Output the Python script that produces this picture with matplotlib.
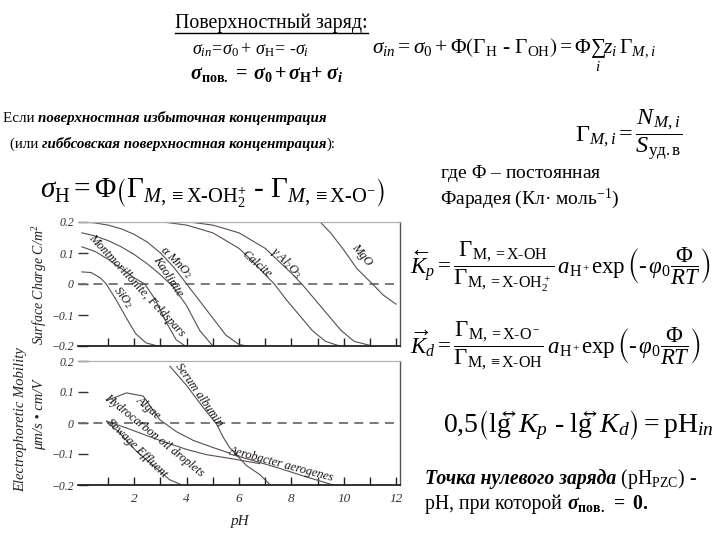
import matplotlib
matplotlib.use("Agg")
import matplotlib.pyplot as plt
from matplotlib.lines import Line2D

plt.rcParams['mathtext.fontset'] = 'custom'
plt.rcParams['mathtext.rm'] = 'Liberation Serif'
plt.rcParams['mathtext.it'] = 'Liberation Serif:italic'
plt.rcParams['mathtext.bf'] = 'Liberation Serif:bold'
plt.rcParams['mathtext.bfit'] = 'Liberation Serif:bold:italic'
plt.rcParams['mathtext.fallback'] = 'stix'
plt.rcParams['font.family'] = ['Liberation Serif', 'DejaVu Serif']

# ---------------- data ----------------
# upper panel: surface charge (C/m^2) vs pH
sio2_ph = [0.0, 0.35, 0.7, 0.93, 1.3, 1.7, 2.05, 2.45, 2.9]
sio2_q = [0.039, 0.037, 0.02, 0.0, -0.05, -0.11, -0.16, -0.19, -0.2]
mont_ph = [0.0, 0.5, 1.0, 1.5, 2.0, 2.4, 2.8, 3.2, 3.6, 3.95]
mont_q = [0.12, 0.105, 0.08, 0.05, 0.02, 0.0, -0.05, -0.12, -0.18, -0.2]
kaol_ph = [0.0, 0.5, 1.0, 1.5, 2.0, 2.5, 3.0, 3.5, 4.0, 4.5, 5.0]
kaol_q = [0.165, 0.155, 0.14, 0.12, 0.095, 0.065, 0.03, -0.01, -0.07, -0.15, -0.2]
mno2_ph = [0.0, 0.5, 1.0, 1.5, 2.0, 2.5, 3.0, 3.5, 4.0, 4.5, 5.0, 5.5, 6.0, 6.3]
mno2_q = [0.2, 0.197, 0.19, 0.178, 0.16, 0.135, 0.1, 0.055, 0.0, -0.055, -0.11, -0.165, -0.195, -0.2]
calc_ph = [3.1, 4.0, 5.0, 6.0, 6.5, 7.0, 7.35, 7.8, 8.3, 8.8, 9.3, 9.85]
calc_q = [0.2, 0.19, 0.165, 0.115, 0.075, 0.03, 0.0, -0.05, -0.1, -0.15, -0.185, -0.2]
al2o3_ph = [4.1, 5.0, 6.0, 7.0, 7.5, 8.0, 8.4, 8.9, 9.4, 9.9, 10.4, 11.1]
al2o3_q = [0.2, 0.19, 0.165, 0.115, 0.075, 0.035, 0.0, -0.05, -0.1, -0.15, -0.185, -0.2]
mgo_ph = [9.1, 9.5, 10.0, 10.5, 11.1, 11.5, 12.0]
mgo_q = [0.2, 0.165, 0.11, 0.05, 0.0, -0.035, -0.065]

# lower panel: electrophoretic mobility vs pH
serum_ph = [3.36, 3.99, 4.63, 5.14, 5.39, 5.64, 6.28, 6.79, 7.2]
serum_m = [0.183, 0.122, 0.05, -0.003, -0.045, -0.079, -0.137, -0.166, -0.2]
algae_ph = [0.94, 1.7, 2.34, 2.97, 3.61, 4.25, 5.0, 5.64]
algae_m = [0.072, 0.097, 0.087, 0.011, -0.028, -0.056, -0.079, -0.097]
hydro_ph = [0.94, 1.7, 2.97, 3.99, 4.75, 5.64, 6.79]
hydro_m = [0.006, -0.016, -0.056, -0.085, -0.102, -0.114, -0.131]
sewage_ph = [0.94, 1.45, 2.08, 2.72, 3.35, 3.74]
sewage_m = [0.006, -0.033, -0.091, -0.137, -0.183, -0.197]
aero_ph = [5.64, 6.5, 7.5, 8.5, 9.6]
aero_m = [-0.1, -0.12, -0.145, -0.172, -0.2]

upper_ticks = [-0.2, -0.1, 0.0, 0.1, 0.2]
upper_ticklabels = ['\u22120.2', '\u22120.1', '0', '0.1', '0.2']
x_ticks = list(range(1, 13))
x_ticklabels = ['', '2', '', '4', '', '6', '', '8', '', '10', '', '12']

# ---------------- figure ----------------
W, H = 720, 540
fig = plt.figure(figsize=(W / 100, H / 100), dpi=100)
fig.patch.set_facecolor('white')
R = fig.canvas.get_renderer()


def fx(x):
    return x / W


def fy(y):
    return 1 - y / H


def seq(x, y, pieces):
    """Place pieces of text one after another on a common baseline (pixels)."""
    out = []
    for s, kw in pieces:
        t = fig.text(fx(x), fy(y), s, ha='left', va='baseline', **kw)
        bb = t.get_window_extent(renderer=R)
        x += bb.width
        out.append(t)
    return out, x


def underline(t, dy=3):
    bb = t.get_window_extent(renderer=R)
    y = bb.y0 + 1
    fig.add_artist(Line2D([bb.x0 / W, bb.x1 / W], [(y - dy + 2) / H, (y - dy + 2) / H],
                          transform=fig.transFigure, color='black', lw=1.0))


# ---- header text ----
t = fig.text(fx(175), fy(28), 'Поверхностный заряд:', fontsize=14.3, ha='left', va='baseline')
underline(t)
fig.text(fx(192), fy(54), r'$\sigma_{in}\!=\!\sigma_0+\,\sigma_\mathrm{H}\!=\,\text{-}\sigma_i$',
         fontsize=13, ha='left', va='baseline')
fig.text(fx(190), fy(79), r'$\mathbfit{\sigma}_\mathbf{пов.}\,\mathbf{=}\;\mathbfit{\sigma}_\mathbf{0}\,\mathbf{+}\,\mathbfit{\sigma}_\mathbf{H}\mathbf{+}\;\mathbfit{\sigma}_\mathbfit{i}$',
         fontsize=14.5, ha='left', va='baseline')
fig.text(fx(372), fy(53), r'$\sigma_{in}=\sigma_0+\Phi\left(\Gamma_\mathrm{H}\ \text{-}\ \Gamma_\mathrm{OH}\right)=\Phi\sum_i z_i\,\Gamma_{M,i}$',
         fontsize=15.5, ha='left', va='baseline')

bi = dict(fontsize=10.8, style='italic', weight='bold')
rg = dict(fontsize=10.8)
seq(3, 122, [('Если ', rg), ('поверхностная избыточная концентрация', bi)])
seq(10, 148, [('(или ', rg), ('гиббсовская поверхностная концентрация', bi), ('):', rg)])

fig.text(fx(575), fy(135), r'$\Gamma_{M,i}=\dfrac{N_{M,i}}{S_{\mathrm{уд.в}}}$', fontsize=17.5,
         ha='left', va='center')

fig.text(fx(40), fy(192), r'$\sigma_\mathrm{H}=\Phi\left(\Gamma_{M,\equiv\mathrm{X\text{-}OH}_2^{+}}\ \text{-}\ \Gamma_{M,\equiv\mathrm{X\text{-}O}^{-}}\right)$',
         fontsize=21, ha='left', va='center')

fig.text(fx(440), fy(178), 'где $\\mathit{Φ}$ – постоянная', fontsize=14, ha='left', va='baseline')
fig.text(fx(440), fy(204), 'Фарадея (Кл· моль$^{-1}$)', fontsize=14, ha='left', va='baseline')

fig.text(fx(410), fy(267), r'$\overleftarrow{K}_p=\dfrac{\Gamma_{\mathrm{M,=X\text{-}OH}}}{\Gamma_{\mathrm{M,=X\text{-}OH}_2^+}}\,a_{\mathrm{H}^+}\exp\left(\text{-}\,\varphi_0\dfrac{\Phi}{RT}\right)$',
         fontsize=16.5, ha='left', va='center')
fig.text(fx(410), fy(346), r'$\overrightarrow{K}_d=\dfrac{\Gamma_{\mathrm{M,=X\text{-}O}^-}}{\Gamma_{\mathrm{M,\equiv X\text{-}OH}}}\,a_{\mathrm{H}^+}\exp\left(\text{-}\,\varphi_0\dfrac{\Phi}{RT}\right)$',
         fontsize=16.5, ha='left', va='center')

fig.text(fx(443), fy(425), r'$\mathrm{0{,}5}\left(\mathrm{lg}\overleftrightarrow{K}_p\ \text{-}\ \mathrm{lg}\overleftrightarrow{K}_d\right)=\mathrm{pH}_{in}$',
         fontsize=20, ha='left', va='center')

seq(425, 484, [('Точка нулевого заряда', dict(fontsize=14.2, style='italic', weight='bold')),
               (' (pH$_{\\mathrm{PZC}}$) -', dict(fontsize=14.2))])
seq(425, 509, [('pH, при которой ', dict(fontsize=14.2)),
               (r'$\mathbfit{\sigma}_\mathbf{пов.}\ \mathbf{=\ 0.}$', dict(fontsize=14.2))])

# ---------------- charts ----------------
curve_c = '#5e4c4c'
lab_kw = dict(fontsize=8.8, style='italic', ha='center', va='center', rotation_mode='anchor',
              color='#111111')


def style_axes(ax, show_xlabels):
    ax.set_xlim(-0.15, 12.15)
    ax.set_ylim(-0.2, 0.2)
    ax.set_facecolor('white')
    ax.spines['left'].set_visible(False)
    ax.spines['top'].set_color('#b0b0b0')
    ax.spines['top'].set_linewidth(0.9)
    ax.spines['right'].set_color('#555555')
    ax.spines['right'].set_linewidth(1.0)
    ax.spines['bottom'].set_color('#222222')
    ax.spines['bottom'].set_linewidth(1.3)
    ax.set_xticks(x_ticks)
    ax.set_yticks(upper_ticks)
    ax.set_yticklabels(upper_ticklabels, fontsize=8.5, style='italic', color='#333333')
    if show_xlabels:
        ax.set_xticklabels(x_ticklabels, fontsize=9.5, style='italic', color='#333333')
    else:
        ax.set_xticklabels([])
    ax.tick_params(axis='x', direction='in', length=6, width=1.0, color='#222222', pad=6)
    ax.tick_params(axis='y', direction='in', length=7, width=1.0, color='#333333', pad=3,
                   left=True)
    ax.axhline(0, color='#6e6e6e', lw=1.3, linestyle=(0, (5, 3.5)))


ax1 = fig.add_axes([fx(78), fy(346), (400 - 78) / W, (346 - 222) / H])
style_axes(ax1, False)
for xs, ys in [(sio2_ph, sio2_q), (mont_ph, mont_q), (kaol_ph, kaol_q), (mno2_ph, mno2_q),
               (calc_ph, calc_q), (al2o3_ph, al2o3_q), (mgo_ph, mgo_q)]:
    ax1.plot(xs, ys, color=curve_c, lw=0.8)
ax1.text(2.08, -0.004, 'Montmorillonite, Feldspars', rotation=-47, **lab_kw)
ax1.text(3.28, 0.023, 'Kaolinite', rotation=-57, **lab_kw)
ax1.text(3.62, 0.071, 'α MnO$_2$', rotation=-45, **lab_kw)
ax1.text(1.58, -0.042, 'SiO$_2$', rotation=-52, **lab_kw)
ax1.text(6.68, 0.064, 'Calcite', rotation=-41, **lab_kw)
ax1.text(7.8, 0.068, 'γ Al$_2$O$_3$', rotation=-45, **lab_kw)
ax1.text(10.7, 0.093, 'MgO', rotation=-50, **lab_kw)
fig.text(fx(40), fy(285), 'Surface Charge C/m$^2$', rotation=90, fontsize=10, style='italic',
         ha='center', va='center', color='#222222')

ax2 = fig.add_axes([fx(78), fy(485), (400 - 78) / W, (485 - 361) / H])
style_axes(ax2, True)
for xs, ys in [(serum_ph, serum_m), (algae_ph, algae_m), (hydro_ph, hydro_m),
               (sewage_ph, sewage_m), (aero_ph, aero_m)]:
    ax2.plot(xs, ys, color=curve_c, lw=0.8)
ax2.text(4.45, 0.091, 'Serum albumin', rotation=-55, **lab_kw)
ax2.text(2.53, 0.048, 'Algae', rotation=-41, **lab_kw)
ax2.text(2.75, -0.041, 'Hydrocarbon oil droplets', rotation=-39, **lab_kw)
ax2.text(2.08, -0.083, 'Sewage Effluent', rotation=-44, **lab_kw)
ax2.text(7.6, -0.132, 'Aerobacter aerogenes', rotation=-15, **lab_kw)
fig.text(fx(21), fy(420), 'Electrophoretic Mobility', rotation=90, fontsize=10.5,
         style='italic', ha='center', va='center', color='#222222')
fig.text(fx(40), fy(415), 'μm/s • cm/V', rotation=90, fontsize=10.5, style='italic',
         ha='center', va='center', color='#222222')
fig.text(fx(240), fy(521), 'pH', fontsize=11, style='italic', ha='center', va='center',
         color='#222222')

fig.savefig('out.png', dpi=100)
